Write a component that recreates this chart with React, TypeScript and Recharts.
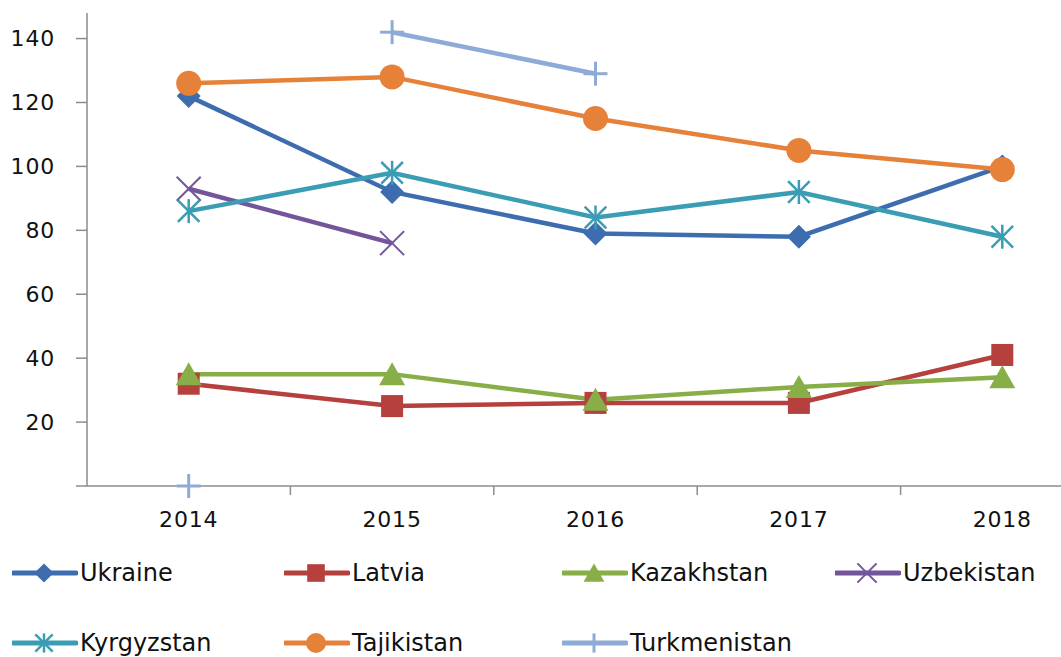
import React from 'react';
import { LineChart, Line, XAxis, YAxis, ReferenceLine } from 'recharts';

const categories = ['2014', '2015', '2016', '2017', '2018'];
const ukraine = [122, 92, 79, 78, 100];
const latvia = [32, 25, 26, 26, 41];
const kazakhstan = [35, 35, 27, 31, 34];
const uzbekistan = [93, 76, null, null, null];
const kyrgyzstan = [86, 98, 84, 92, 78];
const tajikistan = [126, 128, 115, 105, 99];
const turkmenistan = [0, 142, 129, null, null];
const yTicks = [0, 20, 40, 60, 80, 100, 120, 140];
const xBoundaryTicks = [0.5, 1.5, 2.5, 3.5, 4.5];

type Shape = 'diamond' | 'square' | 'triangle' | 'x' | 'asterisk' | 'circle' | 'plus';

const series: { name: string; values: (number | null)[]; color: string; shape: Shape }[] = [
  { name: 'Ukraine', values: ukraine, color: '#3D6DAE', shape: 'diamond' },
  { name: 'Latvia', values: latvia, color: '#B5403D', shape: 'square' },
  { name: 'Kazakhstan', values: kazakhstan, color: '#88AE47', shape: 'triangle' },
  { name: 'Uzbekistan', values: uzbekistan, color: '#73559A', shape: 'x' },
  { name: 'Kyrgyzstan', values: kyrgyzstan, color: '#3A9DB4', shape: 'asterisk' },
  { name: 'Tajikistan', values: tajikistan, color: '#E6813A', shape: 'circle' },
  { name: 'Turkmenistan', values: turkmenistan, color: '#8EAAD6', shape: 'plus' },
];

const data = categories.map((c, i) => {
  const row: any = { idx: i, year: c };
  series.forEach((s) => {
    if (s.name === 'Turkmenistan') {
      row[s.name] = i === 0 ? null : s.values[i];
      row['TurkmenistanStart'] = i === 0 ? s.values[i] : null;
    } else {
      row[s.name] = s.values[i];
    }
  });
  return row;
});

function Marker({ shape, cx, cy, color, k = 1 }: { shape: Shape; cx: number; cy: number; color: string; k?: number }) {
  const r = 12 * k;
  switch (shape) {
    case 'diamond':
      return <polygon points={`${cx},${cy - r} ${cx + r},${cy} ${cx},${cy + r} ${cx - r},${cy}`} fill={color} />;
    case 'square':
      return <rect x={cx - 11 * k} y={cy - 11 * k} width={22 * k} height={22 * k} fill={color} />;
    case 'triangle':
      return <polygon points={`${cx},${cy - 12 * k} ${cx + 13 * k},${cy + 11 * k} ${cx - 13 * k},${cy + 11 * k}`} fill={color} />;
    case 'circle':
      return <circle cx={cx} cy={cy} r={12.5 * k} fill={color} />;
    case 'x':
      return (
        <g stroke={color} strokeWidth={2}>
          <line x1={cx - r} y1={cy - r} x2={cx + r} y2={cy + r} />
          <line x1={cx - r} y1={cy + r} x2={cx + r} y2={cy - r} />
        </g>
      );
    case 'asterisk':
      return (
        <g stroke={color} strokeWidth={2.5}>
          <line x1={cx} y1={cy - r} x2={cx} y2={cy + r} />
          <line x1={cx - r * 0.9} y1={cy - r * 0.9} x2={cx + r * 0.9} y2={cy + r * 0.9} />
          <line x1={cx - r * 0.9} y1={cy + r * 0.9} x2={cx + r * 0.9} y2={cy - r * 0.9} />
        </g>
      );
    case 'plus':
      return (
        <g stroke={color} strokeWidth={3}>
          <line x1={cx} y1={cy - r} x2={cx} y2={cy + r} />
          <line x1={cx - r} y1={cy} x2={cx + r} y2={cy} />
        </g>
      );
  }
  return null;
}

const makeDot = (shape: Shape, color: string) => (props: any) => {
  const { cx, cy, value, index } = props;
  if (value === null || value === undefined || cx == null || cy == null) return <g key={`e-${index}`} />;
  return (
    <g key={`d-${index}`}>
      <Marker shape={shape} cx={cx} cy={cy} color={color} />
    </g>
  );
};

const legendPos = [
  { x: 12, y: 573 },
  { x: 284, y: 573 },
  { x: 562, y: 573 },
  { x: 835, y: 573 },
  { x: 12, y: 643 },
  { x: 284, y: 643 },
  { x: 562, y: 643 },
];

const tickStyle = { fill: '#111', fontSize: 22, fontFamily: 'DejaVu Sans', letterSpacing: 0.8 };
const axisColor = '#8c8c8c';

export default function App() {
  return (
    <div style={{ position: 'absolute', left: 0, top: 0, width: 1061, height: 657, overflow: 'hidden', background: '#fff' }}>
      <LineChart width={1120} height={657} data={data} margin={{ top: 13, right: 16, left: 0, bottom: 111 }}>
        <XAxis
          type="number"
          dataKey="idx"
          domain={[-0.5, 4.5]}
          ticks={[0, 1, 2, 3, 4]}
          interval={0}
          tickFormatter={(i: number) => categories[i]}
          tickLine={false}
          axisLine={{ stroke: axisColor, strokeWidth: 1.5 }}
          tickSize={9}
          tickMargin={16}
          height={60}
          tick={tickStyle}
        />
        <YAxis
          width={87}
          domain={[0, 148]}
          ticks={yTicks}
          interval={0}
          tickSize={11}
          tickMargin={21}
          stroke={axisColor}
          strokeWidth={1.5}
          tick={tickStyle}
          tickFormatter={(v: number) => (v === 0 ? '' : String(v))}
        />
        {xBoundaryTicks.map((b) => (
          <ReferenceLine
            key={`b-${b}`}
            segment={[{ x: b, y: 0 }, { x: b, y: -2.8 }]}
            stroke={axisColor}
            strokeWidth={1.5}
            ifOverflow="visible"
          />
        ))}
        {series.map((s) => (
          <Line
            key={s.name}
            dataKey={s.name}
            stroke={s.color}
            strokeWidth={4.5}
            dot={makeDot(s.shape, s.color)}
            activeDot={false}
            isAnimationActive={false}
            connectNulls={false}
          />
        ))}
        <Line
          dataKey="TurkmenistanStart"
          stroke="none"
          dot={makeDot('plus', '#8EAAD6')}
          activeDot={false}
          isAnimationActive={false}
          legendType="none"
        />
      </LineChart>
      {series.map((s, i) => (
        <div
          key={s.name}
          style={{ position: 'absolute', left: legendPos[i].x, top: legendPos[i].y - 20, height: 40, display: 'flex', alignItems: 'center' }}
        >
          <svg width={66} height={40} style={{ display: 'block' }}>
            <line x1={1} y1={20} x2={64} y2={20} stroke={s.color} strokeWidth={5} strokeLinecap="round" />
            <Marker shape={s.shape} cx={32} cy={20} color={s.color} k={0.8} />
          </svg>
          <span style={{ fontFamily: 'DejaVu Sans', fontSize: 24, color: '#111', marginLeft: 2, whiteSpace: 'nowrap' }}>{s.name}</span>
        </div>
      ))}
    </div>
  );
}
